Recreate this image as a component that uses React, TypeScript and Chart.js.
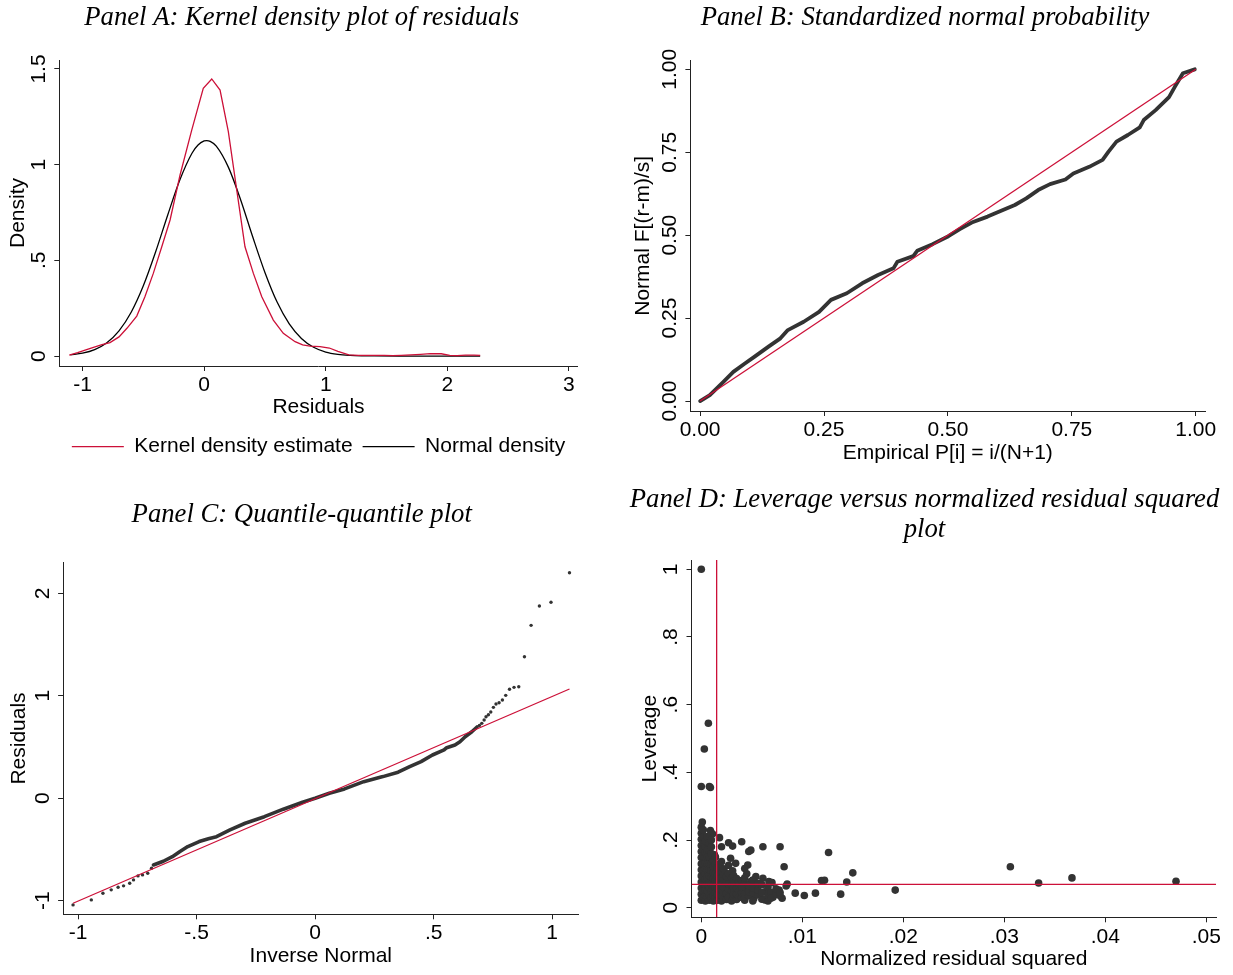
import React, { useEffect, useRef } from "react";
import { Chart, registerables } from "chart.js";

Chart.register(...registerables);

const RED = "rgb(204,16,56)";
const DOT = "#333333";
const AXIS = "#222222";
const SANS = "'Liberation Sans', Arial, sans-serif";
const SERIF = "'Liberation Serif', 'Times New Roman', serif";

// ---------------- Panel A: kernel density ----------------
const kdeResid = [-1.109, -1.04, -0.979, -0.91, -0.84, -0.774, -0.7, -0.635, -0.554, -0.487, -0.418, -0.349, -0.28, -0.198, -0.102, -0.007, 0.0625, 0.131, 0.199, 0.268, 0.336, 0.405, 0.474, 0.569, 0.651, 0.748, 0.81, 0.871, 0.953, 1.03, 1.1, 1.19, 1.268, 1.33, 1.4, 1.48, 1.55, 1.62, 1.7, 1.78, 1.86, 1.95, 2.02, 2.08, 2.15, 2.22, 2.27];
const kdeDensity = [0.005, 0.018, 0.031, 0.045, 0.06, 0.07, 0.1, 0.145, 0.209, 0.31, 0.432, 0.57, 0.711, 0.946, 1.181, 1.399, 1.448, 1.39, 1.173, 0.868, 0.571, 0.432, 0.31, 0.188, 0.119, 0.075, 0.058, 0.052, 0.049, 0.042, 0.025, 0.006, 0.003, 0.003, 0.004, 0.003, 0.002, 0.004, 0.006, 0.009, 0.013, 0.012, 0.004, 0.002, 0.005, 0.005, 0.004];
const normResid = [-1.1, -1.0, -0.9, -0.8, -0.7, -0.6, -0.5, -0.4, -0.3, -0.2, -0.1, -0.05, 0.0, 0.021, 0.05, 0.1, 0.2, 0.3, 0.4, 0.5, 0.6, 0.7, 0.8, 0.9, 1.0, 1.1, 1.2, 1.3, 1.4, 1.6, 1.8, 2.0, 2.27];
const normDensity = [0.006, 0.015, 0.034, 0.07, 0.132, 0.229, 0.367, 0.542, 0.736, 0.92, 1.06, 1.103, 1.124, 1.126, 1.122, 1.097, 0.986, 0.817, 0.622, 0.437, 0.282, 0.168, 0.092, 0.046, 0.021, 0.009, 0.0036, 0.0013, 0.0004, 0, 0, 0, 0];
const aXTickVals = [-1, 0, 1, 2, 3];
const aXTickLabels = ["-1", "0", "1", "2", "3"];
const aYTickVals = [0, 0.5, 1, 1.5];
const aYTickLabels = ["0", ".5", "1", "1.5"];

// ---------------- Panel B: standardized normal probability ----------------
const bEmpirical = [0.0, 0.0196, 0.047, 0.067, 0.091, 0.11, 0.138, 0.162, 0.177, 0.209, 0.24, 0.264, 0.296, 0.327, 0.359, 0.39, 0.398, 0.43, 0.438, 0.469, 0.501, 0.524, 0.548, 0.58, 0.611, 0.635, 0.658, 0.682, 0.706, 0.737, 0.753, 0.785, 0.812, 0.824, 0.84, 0.863, 0.887, 0.895, 0.919, 0.946, 0.958, 0.974, 0.998];
const bNormalF = [0.0, 0.018, 0.058, 0.088, 0.114, 0.134, 0.164, 0.189, 0.214, 0.239, 0.269, 0.305, 0.325, 0.355, 0.38, 0.4, 0.42, 0.437, 0.453, 0.473, 0.497, 0.518, 0.538, 0.556, 0.576, 0.591, 0.611, 0.636, 0.654, 0.668, 0.686, 0.706, 0.727, 0.752, 0.782, 0.802, 0.825, 0.847, 0.877, 0.916, 0.948, 0.988, 1.0];
const bRefP = [0, 1];
const bRefF = [0, 1];
const bTickVals = [0, 0.25, 0.5, 0.75, 1];
const bTickLabels = ["0.00", "0.25", "0.50", "0.75", "1.00"];

// ---------------- Panel C: quantile-quantile ----------------
const cLowQ = [-1.021, -0.944, -0.895, -0.86, -0.831, -0.808, -0.782, -0.766, -0.747, -0.728, -0.706, -0.69];
const cLowR = [-1.041, -0.992, -0.927, -0.894, -0.868, -0.855, -0.829, -0.797, -0.758, -0.748, -0.732, -0.683];
const cBodyQ = [-0.682, -0.64, -0.602, -0.57, -0.537, -0.489, -0.45, -0.416, -0.359, -0.295, -0.214, -0.134, -0.053, 0.0, 0.06, 0.124, 0.205, 0.286, 0.35, 0.399, 0.447, 0.495, 0.544, 0.555, 0.59, 0.611, 0.633, 0.661, 0.683];
const cBodyR = [-0.651, -0.615, -0.57, -0.52, -0.472, -0.423, -0.395, -0.375, -0.309, -0.244, -0.18, -0.107, -0.039, 0.0, 0.049, 0.091, 0.162, 0.211, 0.254, 0.308, 0.357, 0.422, 0.471, 0.493, 0.519, 0.551, 0.6, 0.649, 0.695];
const cHighQ = [0.693, 0.703, 0.713, 0.721, 0.731, 0.741, 0.752, 0.763, 0.776, 0.79, 0.804, 0.82, 0.839, 0.859, 0.883, 0.911, 0.946, 0.995, 1.073];
const cHighR = [0.711, 0.731, 0.763, 0.795, 0.815, 0.841, 0.887, 0.919, 0.932, 0.958, 1.004, 1.063, 1.082, 1.088, 1.381, 1.687, 1.876, 1.912, 2.201];
const cRefQ = [-1.021, 1.073];
const cRefR = [-1.025, 1.066];
const cXTickVals = [-1, -0.5, 0, 0.5, 1];
const cXTickLabels = ["-1", "-.5", "0", ".5", "1"];
const cYTickVals = [-1, 0, 1, 2];
const cYTickLabels = ["-1", "0", "1", "2"];

// ---------------- Panel D: leverage vs normalized residual squared ----------------
const dNrs = [
  0.0, 0.0007, 0.0003, 0.0, 0.0008, 0.0009, 0.0001, 0.0, 0.0001, 0.0009, 0.0011, 0.0018,
  0.0027, 0.0031, 0.004, 0.002, 0.0047, 0.0049, 0.0061, 0.0078, 0.0126, 0.0013, 0.0029, 0.002,
  0.0034, 0.0046, 0.0043, 0.0082, 0.0023, 0.0031, 0.0045, 0.0054, 0.0061, 0.0067, 0.007, 0.0085,
  0.0084, 0.0119, 0.0122, 0.015, 0.0144, 0.0093, 0.0102, 0.0113, 0.0138, 0.008, 0.0071, 0.0063,
  0.0077, 0.0063, 0.0054, 0.0049, 0.0043, 0.0038, 0.0031, 0.0025, 0.0043, 0.0052,
  0.0192, 0.0306, 0.0334, 0.0367, 0.047,
  0.0, 0.0, 0.0, 0.0, 0.0, 0.0, 0.0, 0.0, 0.0, 0.0, 0.0, 0.0,
  0.0002, 0.0002, 0.0002, 0.0002, 0.0002, 0.0002, 0.0002, 0.0002, 0.0002, 0.0002, 0.0002,
  0.0004, 0.0004, 0.0004, 0.0004, 0.0004, 0.0004, 0.0004, 0.0004, 0.0004, 0.0004, 0.0004, 0.0004,
  0.0006, 0.0006, 0.0006, 0.0006, 0.0006, 0.0006, 0.0006, 0.0006, 0.0006,
  0.0008, 0.0008, 0.0008, 0.0008, 0.0008, 0.0008, 0.0008, 0.0008, 0.0008, 0.0008,
  0.001, 0.001, 0.001, 0.001, 0.001, 0.001, 0.001, 0.001, 0.001,
  0.0012, 0.0012, 0.0012, 0.0012, 0.0012, 0.0012, 0.0012, 0.0012,
  0.0014, 0.0014, 0.0014, 0.0014, 0.0014, 0.0014, 0.0014,
  0.0016, 0.0016, 0.0016, 0.0016, 0.0016, 0.0016,
  0.0018, 0.0018, 0.0018, 0.0018, 0.0018, 0.0018,
  0.002, 0.002, 0.002, 0.002, 0.002,
  0.0022, 0.0022, 0.0022, 0.0022, 0.0022, 0.0022,
  0.0025, 0.0025, 0.0025, 0.0025,
  0.0027, 0.0027, 0.0027, 0.0027, 0.0027,
  0.003, 0.003, 0.003, 0.003,
  0.0032, 0.0032, 0.0032, 0.0032, 0.0032,
  0.0035, 0.0035, 0.0035, 0.0035,
  0.0037, 0.0037, 0.0037, 0.0037,
  0.004, 0.004, 0.004, 0.004,
  0.0043, 0.0043, 0.0043, 0.0043,
  0.0047, 0.0047, 0.0047,
  0.0051, 0.0051, 0.0051, 0.0051,
  0.0056, 0.0056, 0.0056,
  0.006, 0.006, 0.006,
  0.0066, 0.0066, 0.0066,
  0.0069, 0.0069,
  0.0074, 0.0074,
  0.0078, 0.0078,
];
const dLev = [
  1.0, 0.545, 0.469, 0.358, 0.358, 0.355, 0.253, 0.238, 0.225, 0.228, 0.218, 0.207,
  0.192, 0.182, 0.195, 0.18, 0.166, 0.17, 0.18, 0.18, 0.163, 0.156, 0.146, 0.136,
  0.131, 0.126, 0.116, 0.121, 0.106, 0.109, 0.1, 0.092, 0.087, 0.077, 0.074, 0.07,
  0.064, 0.08, 0.081, 0.103, 0.076, 0.043, 0.036, 0.043, 0.04, 0.028, 0.031, 0.023,
  0.052, 0.047, 0.062, 0.077, 0.052, 0.071, 0.032, 0.062, 0.022, 0.027,
  0.052, 0.121, 0.073, 0.088, 0.078,
  0.022, 0.04, 0.058, 0.076, 0.094, 0.112, 0.13, 0.148, 0.166, 0.184, 0.202, 0.22,
  0.03, 0.05, 0.07, 0.09, 0.11, 0.13, 0.15, 0.17, 0.19, 0.21, 0.23,
  0.02, 0.036, 0.052, 0.068, 0.084, 0.1, 0.116, 0.132, 0.148, 0.164, 0.18, 0.196,
  0.03, 0.05, 0.07, 0.09, 0.11, 0.13, 0.15, 0.17, 0.21,
  0.022, 0.04, 0.058, 0.076, 0.094, 0.112, 0.13, 0.15, 0.17, 0.192,
  0.03, 0.05, 0.07, 0.09, 0.11, 0.13, 0.16, 0.18, 0.2,
  0.02, 0.036, 0.052, 0.068, 0.086, 0.104, 0.122, 0.14,
  0.03, 0.045, 0.06, 0.08, 0.1, 0.13, 0.15,
  0.022, 0.04, 0.058, 0.076, 0.094, 0.118,
  0.03, 0.05, 0.065, 0.085, 0.105, 0.125,
  0.02, 0.036, 0.052, 0.07, 0.088,
  0.028, 0.045, 0.06, 0.08, 0.098, 0.115,
  0.024, 0.042, 0.078, 0.092,
  0.03, 0.055, 0.07, 0.1, 0.125,
  0.02, 0.05, 0.068, 0.088,
  0.03, 0.04, 0.06, 0.078, 0.095,
  0.024, 0.04, 0.058, 0.086,
  0.032, 0.05, 0.068, 0.078,
  0.03, 0.045, 0.062, 0.08,
  0.03, 0.04, 0.072, 0.088,
  0.035, 0.048, 0.066,
  0.02, 0.045, 0.058, 0.082,
  0.038, 0.052, 0.072,
  0.025, 0.045, 0.068,
  0.02, 0.036, 0.06,
  0.045, 0.028,
  0.04, 0.056,
  0.035, 0.045,
];
const dMeanNrs = 0.00152;
const dMeanLev = 0.069;
const dXTickVals = [0, 0.01, 0.02, 0.03, 0.04, 0.05];
const dXTickLabels = ["0", ".01", ".02", ".03", ".04", ".05"];
const dYTickVals = [0, 0.2, 0.4, 0.6, 0.8, 1];
const dYTickLabels = ["0", ".2", ".4", ".6", ".8", "1"];

// ---------------- helpers ----------------
const pts = (xs: number[], ys: number[]) => xs.map((x, i) => ({ x, y: ys[i] }));

type Spec = {
  title: string[];
  titleX: number;
  titleY: number;
  xMin: number; xMax: number; yMin: number; yMax: number;
  xTicks: number[]; xLabels: string[]; yTicks: number[]; yLabels: string[];
  xTitle: string; yTitle: string;
  yWidth: number; xHeight: number; xTickPad: number; xTitlePad: number; yTitlePad: number;
  padding: { top: number; left: number; right: number; bottom: number };
  datasets: any[];
  legend?: boolean;
};

function buildConfig(s: Spec): any {
  const textPlugin = {
    id: "panelText",
    afterDraw(chart: any) {
      const ctx = chart.ctx as CanvasRenderingContext2D;
      const ys = chart.scales.y;
      ctx.save();
      ctx.fillStyle = "#000";
      ctx.textAlign = "center";
      ctx.textBaseline = "middle";
      ctx.font = `italic 26.7px ${SERIF}`;
      s.title.forEach((line, i) => ctx.fillText(line, s.titleX, s.titleY + i * 30));
      ctx.font = `21px ${SANS}`;
      s.yTicks.forEach((v, i) => {
        const py = ys.getPixelForValue(v);
        ctx.save();
        ctx.translate(ys.right - 20.2, py);
        ctx.rotate(-Math.PI / 2);
        ctx.fillText(s.yLabels[i], 0, 0);
        ctx.restore();
      });
      ctx.restore();
    },
  };
  const font = { family: SANS, size: 21 };
  return {
    type: "scatter",
    data: { datasets: s.datasets },
    options: {
      animation: false,
      responsive: false,
      events: [],
      layout: { padding: s.padding },
      plugins: {
        tooltip: { enabled: false },
        title: { display: false },
        legend: s.legend
          ? {
              display: true,
              position: "bottom",
              align: "center",
              fullSize: false,
              labels: {
                usePointStyle: true,
                pointStyle: "line",
                pointStyleWidth: 52,
                boxWidth: 52,
                padding: 10,
                color: "#000",
                font,
              },
            }
          : { display: false },
      },
      scales: {
        x: {
          type: "linear",
          position: "bottom",
          min: s.xMin,
          max: s.xMax,
          afterBuildTicks: (sc: any) => {
            sc.ticks = s.xTicks.map((v) => ({ value: v }));
          },
          afterFit: (sc: any) => {
            sc.height = s.xHeight;
            sc.paddingLeft = 0;
            sc.paddingRight = 0;
          },
          ticks: {
            display: true,
            autoSkip: false,
            maxRotation: 0,
            minRotation: 0,
            padding: s.xTickPad,
            color: "#000",
            font,
            callback: (_v: any, i: number) => s.xLabels[i],
          },
          grid: { display: true, drawOnChartArea: false, drawTicks: true, tickLength: 5, color: AXIS, lineWidth: 1 },
          border: { display: true, color: AXIS, width: 1 },
          title: { display: true, text: s.xTitle, color: "#000", font, padding: { top: 0, bottom: s.xTitlePad } },
        },
        y: {
          type: "linear",
          position: "left",
          min: s.yMin,
          max: s.yMax,
          afterBuildTicks: (sc: any) => {
            sc.ticks = s.yTicks.map((v) => ({ value: v }));
          },
          afterFit: (sc: any) => {
            sc.width = s.yWidth;
            sc.paddingTop = 0;
            sc.paddingBottom = 0;
          },
          ticks: { display: false },
          grid: { display: true, drawOnChartArea: false, drawTicks: true, tickLength: 5, color: AXIS, lineWidth: 1 },
          border: { display: true, color: AXIS, width: 1 },
          title: { display: true, text: s.yTitle, color: "#000", font, padding: { top: s.yTitlePad, bottom: 0 } },
        },
      },
    },
    plugins: [textPlugin],
  };
}

const lineDs = (label: string, data: any[], color: string, width: number, extra: any = {}) => ({
  label,
  data,
  showLine: true,
  borderColor: color,
  backgroundColor: color,
  borderWidth: width,
  pointRadius: 0,
  tension: 0,
  ...extra,
});

const dotDs = (label: string, data: any[], radius: number) => ({
  label,
  data,
  showLine: false,
  pointRadius: radius,
  pointBackgroundColor: DOT,
  pointBorderWidth: 0,
  borderColor: DOT,
  backgroundColor: DOT,
});

const specA: Spec = {
  title: ["Panel A: Kernel density plot of residuals"],
  titleX: 301.7,
  titleY: 18.3,
  xMin: -1.191, xMax: 3.072, yMin: -0.052, yMax: 1.547,
  xTicks: aXTickVals, xLabels: aXTickLabels, yTicks: aYTickVals, yLabels: aYTickLabels,
  xTitle: "Residuals", yTitle: "Density",
  yWidth: 59.3, xHeight: 60.2, xTickPad: 1.4, xTitlePad: 6.6, yTitlePad: 6.1,
  padding: { top: 60, left: 0, right: 38.3, bottom: 19.8 },
  legend: true,
  datasets: [
    lineDs("Kernel density estimate", pts(kdeResid, kdeDensity), RED, 1.3),
    lineDs("Normal density", pts(normResid, normDensity), "#000", 1.3, { cubicInterpolationMode: "monotone" }),
  ],
};

const specB: Spec = {
  title: ["Panel B: Standardized normal probability"],
  titleX: 308,
  titleY: 18.3,
  xMin: -0.0196, xMax: 1.019, yMin: -0.03, yMax: 1.026,
  xTicks: bTickVals, xLabels: bTickLabels, yTicks: bTickVals, yLabels: bTickLabels,
  xTitle: "Empirical P[i] = i/(N+1)", yTitle: "Normal F[(r-m)/s]",
  yWidth: 73.4, xHeight: 76, xTickPad: 1.4, xTitlePad: 21.1, yTitlePad: 13.5,
  padding: { top: 60.7, left: 0, right: 27.8, bottom: 0 },
  datasets: [
    lineDs("Reference", pts(bRefP, bRefF), RED, 1.3),
    lineDs("Normal F", pts(bEmpirical, bNormalF), DOT, 3.8, { borderJoinStyle: "round", borderCapStyle: "round" }),
  ],
};

const specC: Spec = {
  title: ["Panel C: Quantile-quantile plot"],
  titleX: 301.7,
  titleY: 27.7,
  xMin: -1.063, xMax: 1.111, yMin: -1.1327, yMax: 2.2986,
  xTicks: cXTickVals, xLabels: cXTickLabels, yTicks: cYTickVals, yLabels: cYTickLabels,
  xTitle: "Inverse Normal", yTitle: "Residuals",
  yWidth: 63.1, xHeight: 60.7, xTickPad: 1.8, xTitlePad: 6.1, yTitlePad: 6.9,
  padding: { top: 75.7, left: 0, right: 37.5, bottom: 0 },
  datasets: [
    lineDs("Reference", pts(cRefQ, cRefR), RED, 1.3),
    lineDs("Body", pts(cBodyQ, cBodyR), DOT, 3.6, { borderJoinStyle: "round", borderCapStyle: "round" }),
    dotDs("Low", pts(cLowQ, cLowR), 1.7),
    dotDs("High", pts(cHighQ, cHighR), 1.7),
  ],
};

const specD: Spec = {
  title: ["Panel D: Leverage versus normalized residual squared", "plot"],
  titleX: 307.5,
  titleY: 13,
  xMin: -0.00097, xMax: 0.05097, yMin: -0.0284, yMax: 1.0275,
  xTicks: dXTickVals, xLabels: dXTickLabels, yTicks: dYTickVals, yLabels: dYTickLabels,
  xTitle: "Normalized residual squared", yTitle: "Leverage",
  yWidth: 74.5, xHeight: 57.7, xTickPad: 2.1, xTitlePad: 2.7, yTitlePad: 20.3,
  padding: { top: 73, left: 0, right: 16.9, bottom: 0 },
  datasets: [
    lineDs("Mean nrs", pts([dMeanNrs, dMeanNrs], [-0.0284, 1.0275]), RED, 1.3),
    lineDs("Mean lev", pts([-0.00097, 0.05097], [dMeanLev, dMeanLev]), RED, 1.3),
    dotDs("Obs", pts(dNrs, dLev), 3.8),
  ],
};

function Panel({ spec, left, top, width, height }: { spec: Spec; left: number; top: number; width: number; height: number }) {
  const ref = useRef<HTMLCanvasElement>(null);
  useEffect(() => {
    const chart = new Chart(ref.current as HTMLCanvasElement, buildConfig(spec));
    return () => chart.destroy();
  }, [spec]);
  return (
    <canvas
      ref={ref}
      width={width}
      height={height}
      style={{ position: "absolute", left, top, width, height, display: "block" }}
    />
  );
}

export default function App() {
  return (
    <div style={{ position: "absolute", left: 0, top: 0, width: 1233, height: 975, background: "#fff", overflow: "hidden" }}>
      <Panel spec={specA} left={0} top={0} width={616} height={487} />
      <Panel spec={specB} left={617} top={0} width={616} height={487} />
      <Panel spec={specC} left={0} top={487} width={616} height={488} />
      <Panel spec={specD} left={617} top={487} width={616} height={488} />
    </div>
  );
}
